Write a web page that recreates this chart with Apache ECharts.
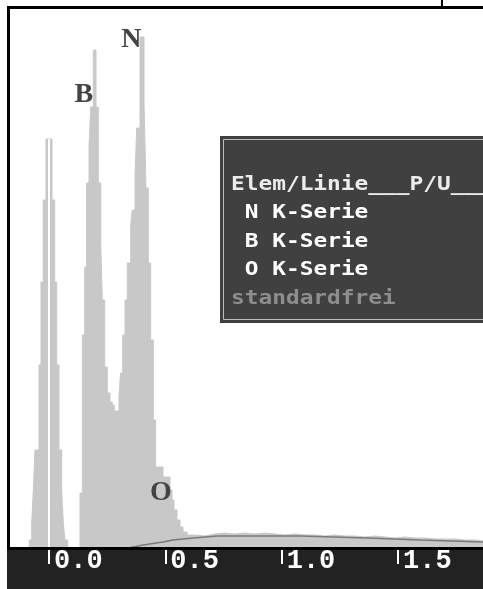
<!DOCTYPE html>
<html>
<head>
<meta charset="utf-8">
<script src="https://cdn.jsdelivr.net/npm/echarts@6/dist/echarts.min.js"></script>
<style>
html,body{margin:0;padding:0;background:#fff;}
#chart{width:483px;height:589px;}
</style>
</head>
<body>
<div id="chart"></div>
<script>
// Spectrum (step histogram): left edge energy of each step (keV) and counts
const energyKeV = [-0.170,-0.0847,-0.0743,-0.0675,-0.0602,-0.0430,-0.0344,-0.0245,-0.0129,0.0129,0.0245,0.0331,0.0430,0.0546,0.0615,0.0688,0.0804,
  0.1332,0.1431,0.1534,0.1620,0.1719,0.1792,0.1904,0.2020,0.2119,0.2222,0.2291,0.2394,0.2505,0.2621,0.2720,0.2806,
  0.3008,0.3073,0.3167,0.3266,0.3365,0.3511,0.3580,0.3696,0.3769,0.3911,0.4083,0.4168,0.4267,0.4370,0.4482,0.4585,
  0.4899,0.5200,0.5286,0.5372,0.5501,0.5630,0.5758,0.5930,
  0.627,0.670,0.713,0.756,0.799,0.842,0.885,0.928,0.971,1.014,1.057,1.100,1.143,1.186,1.229,1.272,1.315,1.358,1.401,
  1.444,1.487,1.530,1.573,1.616,1.659,1.702,1.745,1.788,1.831,1.865];
const counts = [0,8,25,57,98,183,266,348,409,348,266,183,98,57,25,8,0,
  55,213,281,365,401,441,498,441,365,305,248,181,155,146,143,137,
  151,175,213,248,285,323,338,373,420,511,445,360,285,208,128,81,
  71,58,48,38,28,21,16,13,
  12,14,15,14,15,14,15,14,13,14,13,13,12,13,12,12,11,12,11,
  10,11,10,10,9,9,9,8,8,7,8];
// Background (continuum) fit
const bgEnergy = [0.340,0.404,0.490,0.533,0.619,0.722,0.907,1.079,1.367,1.594,1.865];
const bgCounts = [0,3,6,8,10,12,12,12,10,8,6];
// Axis ticks
const tickValues = [0, 0.5, 1.0, 1.5];
const tickLabels = ['0.0', '0.5', '1.0', '1.5'];
// Peak labels
const peakNames = ['B', 'N', 'O'];
const peakLabelE = [0.1497, 0.3538, 0.4813];
const peakLabelCounts = [453, 508, 55];
// Info box
const infoLines = ['Elem/Linie___P/U___', 'N K-Serie', 'B K-Serie', 'O K-Serie', 'standardfrei'];
const infoIndent = [0, 1, 1, 1, 0];
const infoColors = ['#ececec', '#ffffff', '#ffffff', '#ffffff', '#8e8e8e'];

const spectrum = energyKeV.map((e, i) => [e, counts[i]]);
const background = bgEnergy.map((e, i) => [e, bgCounts[i]]);

const chart = echarts.init(document.getElementById('chart'), null, {renderer: 'canvas'});

const infoTexts = infoLines.map((t, i) => ({
  type: 'text',
  x: 231 + infoIndent[i] * 13.8,
  y: 185 + i * 28.4,
  scaleX: 1.2,
  z: 102,
  style: {
    text: t,
    x: 0, y: 0,
    fill: infoColors[i],
    font: 'bold 19px "DejaVu Sans Mono"',
    textAlign: 'left', align: 'left',
    textVerticalAlign: 'middle', verticalAlign: 'middle'
  }
}));

chart.setOption({
  animation: false,
  backgroundColor: '#ffffff',
  grid: {left: 10, right: 0, top: 9, bottom: 41, containLabel: false},
  xAxis: {
    type: 'value',
    min: -0.1676,
    max: 1.865,
    offset: 3,
    axisLine: {show: false},
    splitLine: {show: false},
    axisTick: {show: true, customValues: tickValues, length: 16, inside: false,
      lineStyle: {color: '#ffffff', width: 2}},
    axisLabel: {show: true, customValues: tickValues,
      formatter: v => { const k = tickValues.indexOf(v); return k >= 0 ? tickLabels[k] : v.toFixed(1); },
      color: '#ffffff', fontFamily: 'Liberation Mono', fontWeight: 'bold', fontSize: 27,
      align: 'left', verticalAlign: 'middle', margin: 10, padding: [0, 0, 0, 5]}
  },
  yAxis: {type: 'value', min: 0, max: 539, show: false},
  series: [
    {
      type: 'line',
      step: 'end',
      data: spectrum,
      showSymbol: false,
      symbol: 'none',
      lineStyle: {color: '#c8c8c8', width: 1},
      areaStyle: {color: '#c8c8c8', opacity: 1},
      z: 2,
      markLine: {
        silent: true,
        symbol: 'none',
        label: {show: false},
        lineStyle: {color: '#ffffff', width: 2, type: 'solid'},
        data: [[{coord: [0, 0]}, {coord: [0, 409]}]]
      },
      markPoint: {
        silent: true,
        symbol: 'circle',
        symbolSize: 0,
        label: {show: true, position: 'inside', formatter: p => p.name,
          color: '#444444', fontFamily: 'Liberation Serif', fontWeight: 'bold', fontSize: 28},
        data: peakNames.map((n, i) => ({name: n, coord: [peakLabelE[i], peakLabelCounts[i]]}))
      }
    },
    {
      type: 'line',
      data: background,
      showSymbol: false,
      symbol: 'none',
      lineStyle: {color: '#7a7a7a', width: 1.5},
      z: 3
    }
  ],
  graphic: [
    {type: 'rect', z: -10, shape: {x: 7, y: 549, width: 480, height: 40}, style: {fill: '#222222'}},
    {type: 'rect', z: 50, shape: {x: 8.5, y: 7.5, width: 500, height: 541}, style: {fill: 'none', stroke: '#000000', lineWidth: 3}},
    {type: 'rect', z: 50, shape: {x: 441, y: 0, width: 2, height: 7}, style: {fill: '#000000'}},
    {type: 'rect', z: 100, shape: {x: 220, y: 136, width: 270, height: 187}, style: {fill: '#404040'}},
    {type: 'rect', z: 101, shape: {x: 223.5, y: 139.5, width: 270, height: 180}, style: {fill: 'none', stroke: '#bdbdbd', lineWidth: 1}}
  ].concat(infoTexts)
});
</script>
</body>
</html>
